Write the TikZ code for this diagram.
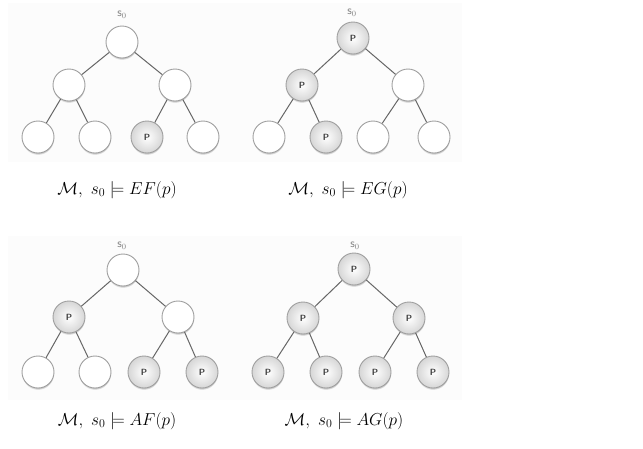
\documentclass[tikz,border=0pt]{standalone}
\usepackage{amsmath}
\usetikzlibrary{shadows}

\begin{document}
\begin{tikzpicture}[x=1pt, y=-1pt,
    state/.style={circle, draw=gray!75, line width=0.9pt, fill=white,
        minimum size=32pt, inner sep=0pt,
        circular drop shadow={shadow xshift=0pt, shadow yshift=-1.6pt,
            shadow scale=1.02, opacity=0.55}},
    pstate/.style={state, shade, inner color=white, outer color=gray!32,
        font=\fontsize{9}{10}\selectfont\sffamily\bfseries, text=black!75},
    edge/.style={draw=black!60, line width=1pt},
    start/.style={text=gray, font=\fontsize{12}{13}\selectfont\sffamily},
    caption/.style={font=\fontsize{17}{20}\selectfont}]
    \useasboundingbox (0,0) rectangle (643,448);
    % faint panels behind the trees
    \fill[black!1] (8,3) rectangle (462,162);
    \fill[black!1] (8,236) rectangle (462,400);

    % EF(p): p holds somewhere below
    \node[state] (r1) at (122,42) {};
    \node[state] (a1) at (69,85) {};
    \node[state] (b1) at (175,85) {};
    \node[state] (a11) at (38,137) {};
    \node[state] (a12) at (95,137) {};
    \node[pstate] (b11) at (147,137) {P};
    \node[state] (b12) at (203,137) {};
    \node[start] (s1) at (122,15) {s$_0$};
    \draw[edge] (r1) -- (a1) (r1) -- (b1) (a1) -- (a11) (a1) -- (a12)
        (b1) -- (b11) (b1) -- (b12);
    \node[caption] (c1) at (117,190) {$\mathcal{M},\ s_0 \models EF(p)$};

    % EG(p): p along one path
    \node[pstate] (r2) at (353,38) {P};
    \node[pstate] (a2) at (302,85) {P};
    \node[state] (b2) at (408,85) {};
    \node[state] (a21) at (269,137) {};
    \node[pstate] (a22) at (326,137) {P};
    \node[state] (b21) at (373,137) {};
    \node[state] (b22) at (434,137) {};
    \node[start] (s2) at (352,13) {s$_0$};
    \draw[edge] (r2) -- (a2) (r2) -- (b2) (a2) -- (a21) (a2) -- (a22)
        (b2) -- (b21) (b2) -- (b22);
    \node[caption] (c2) at (348,190) {$\mathcal{M},\ s_0 \models EG(p)$};

    % AF(p): p on every path
    \node[state] (r3) at (123,270) {};
    \node[pstate] (a3) at (69,317) {P};
    \node[state] (b3) at (178,317) {};
    \node[state] (a31) at (38,372) {};
    \node[state] (a32) at (95,372) {};
    \node[pstate] (b31) at (144,372) {P};
    \node[pstate] (b32) at (202,372) {P};
    \node[start] (s3) at (122,246) {s$_0$};
    \draw[edge] (r3) -- (a3) (r3) -- (b3) (a3) -- (a31) (a3) -- (a32)
        (b3) -- (b31) (b3) -- (b32);
    \node[caption] (c3) at (117,421) {$\mathcal{M},\ s_0 \models AF(p)$};

    % AG(p): p everywhere
    \node[pstate] (r4) at (354,269) {P};
    \node[pstate] (a4) at (303,318) {P};
    \node[pstate] (b4) at (409,318) {P};
    \node[pstate] (a41) at (268,372) {P};
    \node[pstate] (a42) at (326,372) {P};
    \node[pstate] (b41) at (375,372) {P};
    \node[pstate] (b42) at (433,372) {P};
    \node[start] (s4) at (355,246) {s$_0$};
    \draw[edge] (r4) -- (a4) (r4) -- (b4) (a4) -- (a41) (a4) -- (a42)
        (b4) -- (b41) (b4) -- (b42);
    \node[caption] (c4) at (344,421) {$\mathcal{M},\ s_0 \models AG(p)$};
\end{tikzpicture}
\end{document}
